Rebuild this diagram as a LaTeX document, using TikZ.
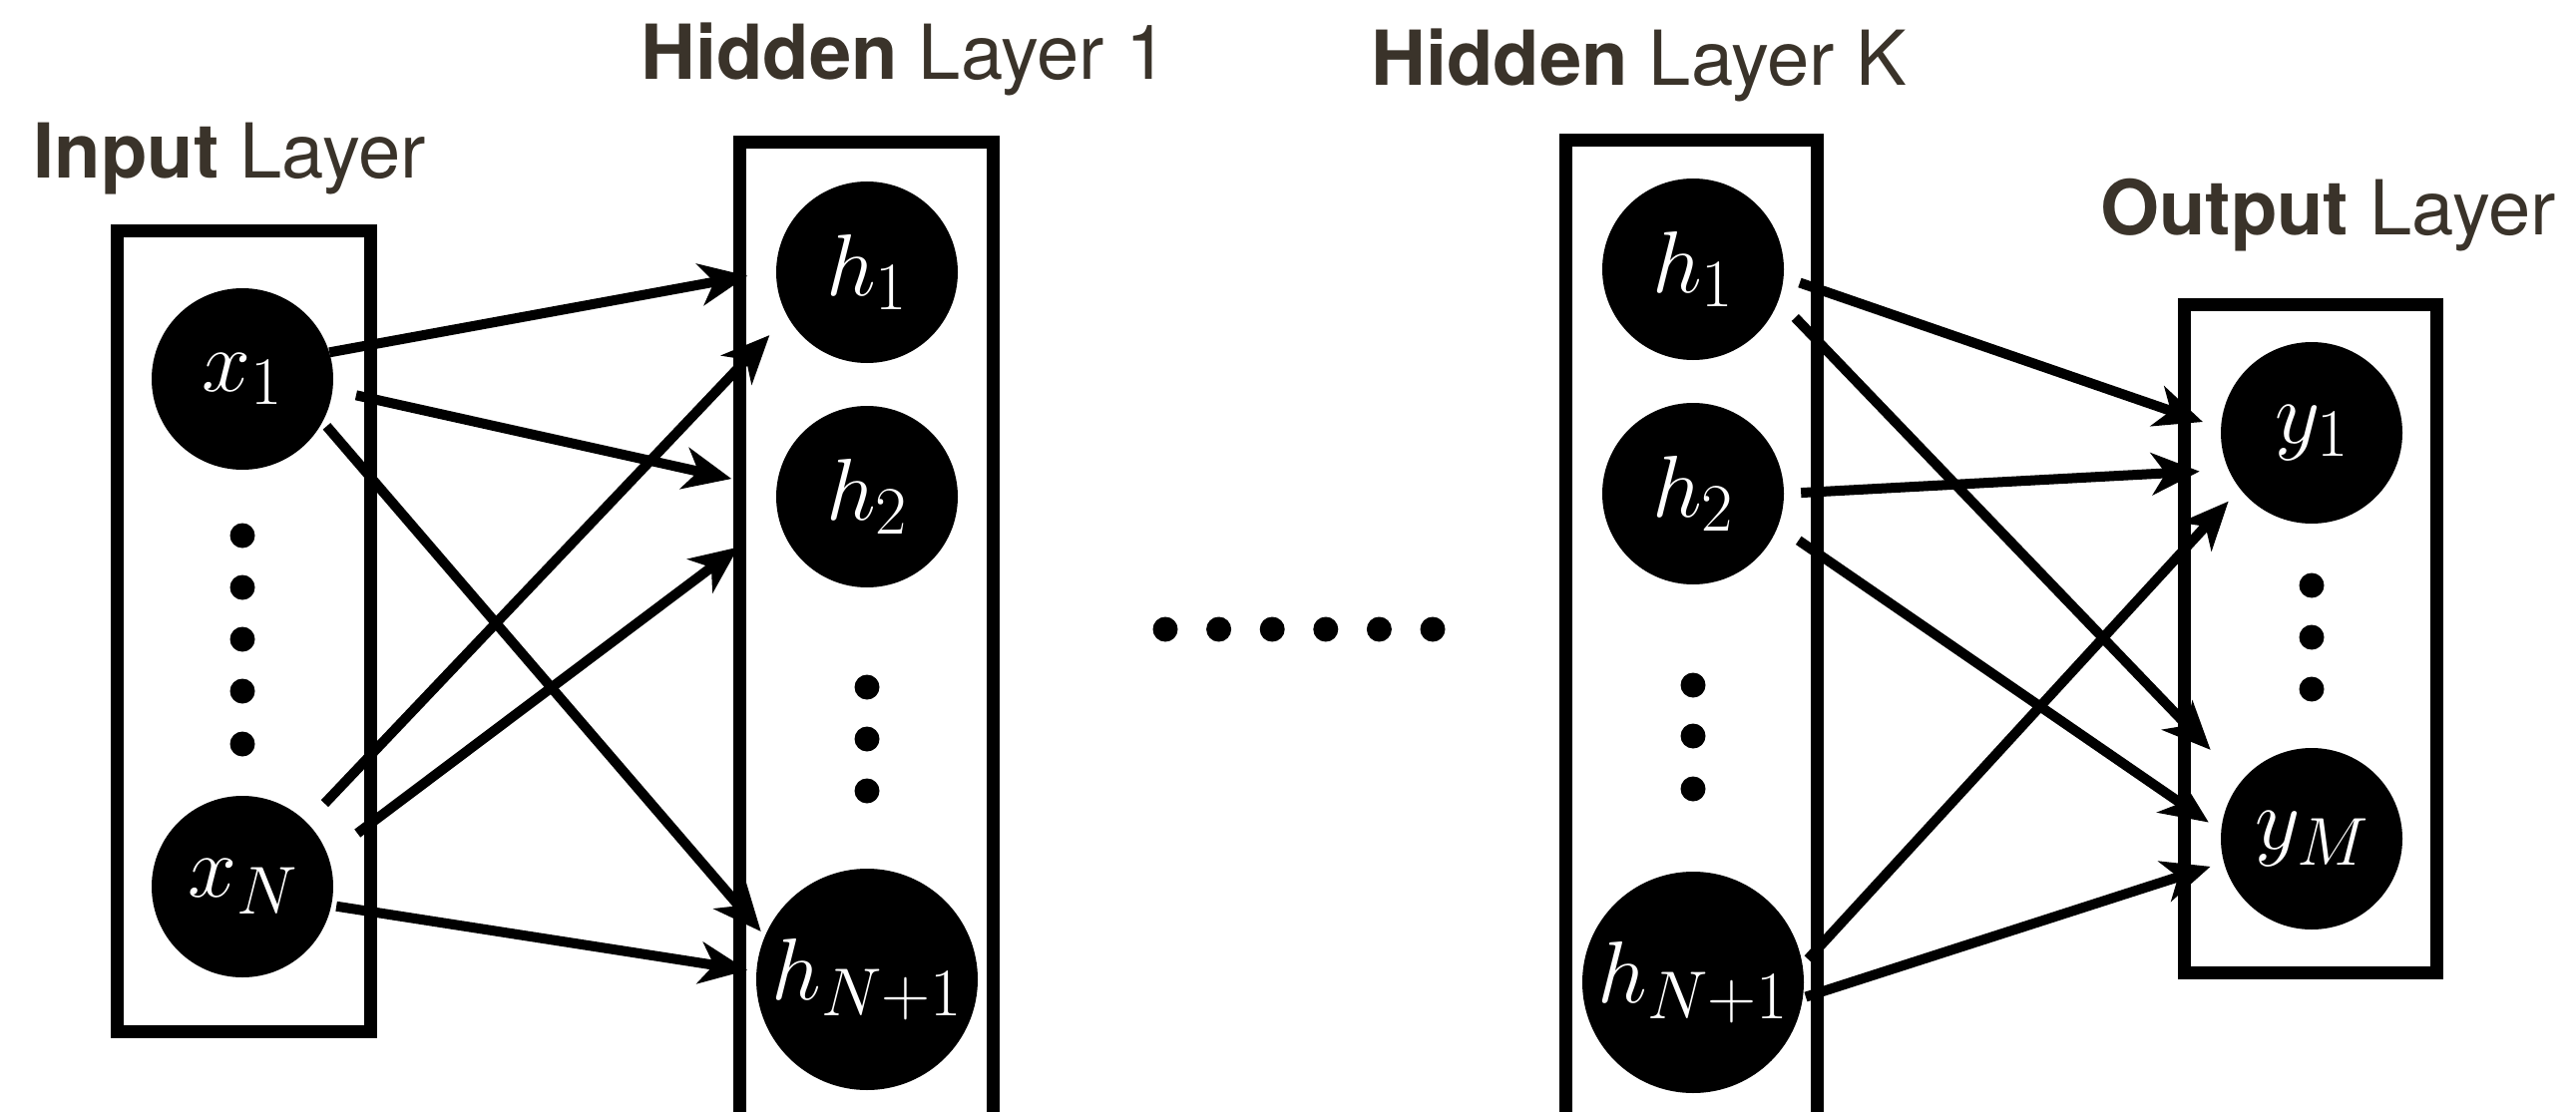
\RequirePackage{fix-cm}
\documentclass[tikz,border=0pt]{standalone}
\usepackage{fontspec}
\newfontfamily\heros{TeX Gyre Heros}
\DeclareMathSizes{88}{88}{68}{50}
\usetikzlibrary{arrows.meta}
\definecolor{titlecol}{RGB}{58,51,42}
\begin{document}
\begin{tikzpicture}[x=1pt,y=-1pt,
 neuron/.style={circle, fill=black, text=white, inner sep=0pt, minimum size=182pt, font=\fontsize{88}{94}\selectfont},
 bigneuron/.style={neuron, minimum size=222pt},
 layerbox/.style={draw=black, line width=13pt},
 conn/.style={line width=10pt, -{Stealth[length=48pt,width=42pt,inset=14pt]}},
 dotmark/.style={fill=black},
 title/.style={anchor=base west, inner sep=0pt, text=titlecol, font=\heros\fontsize{76}{80}\selectfont}]
\useasboundingbox (0,0) rectangle (2582,1115);
\clip (0,0) rectangle (2582,1115);
\fill[white] (0,0) rectangle (2582,1115);

% titles
\node[title] (tin) at (33,179) {\textbf{Input} Layer};
\node[title] (th1) at (642,80) {\textbf{Hidden} Layer 1};
\node[title] (thk) at (1374,86) {\textbf{Hidden} Layer K};
\node[title] (tout) at (2105,236) {\textbf{Output} Layer};

% boxes
\draw[layerbox] (117.5,231.5) rectangle (371.5,1034.5);
\draw[layerbox] (741.5,142.5) rectangle (995.5,1200);
\draw[layerbox] (1569.5,140.5) rectangle (1821.5,1200);
\draw[layerbox] (2189.5,305.5) rectangle (2442.5,975.5);

% neurons
\node[neuron] (x1) at (243,380) {$x_1$};
\node[neuron] (xN) at (243,889) {$x_N$};
\node[neuron] (ha1) at (869,273) {$h_1$};
\node[neuron] (ha2) at (869,498) {$h_2$};
\node[bigneuron] (haN) at (869,982) {\makebox[0pt]{$h_{N+1}$}};
\node[neuron] (hk1) at (1697,270) {$h_1$};
\node[neuron] (hk2) at (1697,495) {$h_2$};
\node[bigneuron] (hkN) at (1697,985) {\makebox[0pt]{$h_{N+1}$}};
\node[neuron] (y1) at (2317,434) {$y_1$};
\node[neuron] (yM) at (2317,841) {$y_M$};

% vertical dots
\foreach \yy in {537,589,641,693,746} \fill[dotmark] (243,\yy) circle (12.5);
\foreach \yy in {689,741,793} \fill[dotmark] (869,\yy) circle (12.5);
\foreach \yy in {687,738,791} \fill[dotmark] (1697,\yy) circle (12.5);
\foreach \yy in {587,639,691} \fill[dotmark] (2317,\yy) circle (12.5);
% horizontal dots
\foreach \i in {0,...,5} \fill[dotmark] (1168+53.6*\i,631) circle (12.5);

% connectors input -> hidden 1
\draw[conn, shorten >=29pt] (x1.17) -- (ha1.179);
\draw[conn, shorten <=24pt, shorten >=46pt] (x1.-7) -- (ha2.175);
\draw[conn, shorten <=6pt, shorten >=6pt] (x1.-28) -- (haN.157);
\draw[conn, shorten <=26pt, shorten >=26pt] (xN.45) -- (ha1.209);
\draw[conn, shorten <=37pt, shorten >=50pt] (xN.20) -- (ha2.193);
\draw[conn, shorten <=5pt, shorten >=9pt] (xN.-12) -- (haN.176);

% connectors hidden K -> output
\draw[conn, shorten <=17pt, shorten >=19pt] (hk1.-5) -- (y1.177);
\draw[conn, shorten <=24pt, shorten >=44pt] (hk1.-20) -- (yM.141);
\draw[conn, shorten <=17pt, shorten >=29pt] (hk2.0) -- (y1.204);
\draw[conn, shorten <=25pt, shorten >=15pt] (hk2.-21) -- (yM.175);
\draw[conn, shorten <=8pt, shorten >=17pt] (hkN.9) -- (y1.218);
\draw[conn, shorten <=3pt, shorten >=14pt] (hkN.-8) -- (yM.195);
\end{tikzpicture}
\end{document}
